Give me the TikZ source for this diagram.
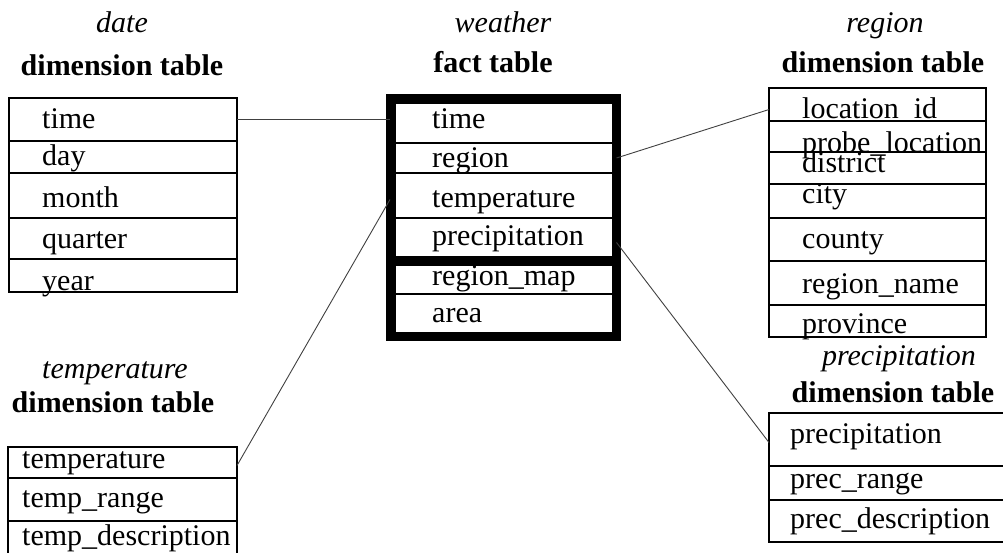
\documentclass[tikz,border=0pt]{standalone}
\usepackage{fontspec}
\setmainfont{Liberation Serif}
\begin{document}
\begin{tikzpicture}[
    x=1pt, y=-1pt,
    font=\fontsize{30}{36}\selectfont,
    field/.style={
      rectangle,
      draw=black,
      line width=1.2pt,
      inner sep=0pt,
      outer sep=0pt,
      anchor=north west
    },
    fieldtext/.style={anchor=base west, inner sep=0pt},
    title/.style={anchor=base, inner sep=0pt, font=\fontsize{30}{36}\selectfont\itshape},
    subtitle/.style={anchor=base, inner sep=0pt, font=\fontsize{30}{36}\selectfont\bfseries},
    link/.style={draw=black!75, line width=0.9pt},
]
\useasboundingbox (0,0) rectangle (1003,552);
\clip (0,0) rectangle (1003,552);

% date dimension table
\node[title] (date-t) at (122,32) {date};
\node[subtitle] (date-s) at (122,75) {dimension table};
\node[field, minimum width=228pt, minimum height=43pt] (dtime) at (9,98) {};
\node[fieldtext] (dtime-l) at ([shift={(33,30)}]dtime.north west) {time};
\node[field, minimum width=228pt, minimum height=32pt] (dday) at (9,141) {};
\node[fieldtext] (dday-l) at ([shift={(33,24)}]dday.north west) {day};
\node[field, minimum width=228pt, minimum height=45pt] (dmonth) at (9,173) {};
\node[fieldtext] (dmonth-l) at ([shift={(33,34)}]dmonth.north west) {month};
\node[field, minimum width=228pt, minimum height=41pt] (dquarter) at (9,218) {};
\node[fieldtext] (dquarter-l) at ([shift={(33,30)}]dquarter.north west) {quarter};
\node[field, minimum width=228pt, minimum height=33pt] (dyear) at (9,259) {};
\node[fieldtext] (dyear-l) at ([shift={(33,31)}]dyear.north west) {year};

% weather fact table
\node[title] (fact-t) at (503,32) {weather};
\node[subtitle] (fact-s) at (493,72) {fact table};
\node[field, minimum width=218pt, minimum height=40pt] (ftime) at (395,103) {};
\node[fieldtext] (ftime-l) at ([shift={(37,25)}]ftime.north west) {time};
\node[field, minimum width=218pt, minimum height=30pt] (fregion) at (395,143) {};
\node[fieldtext] (fregion-l) at ([shift={(37,24)}]fregion.north west) {region};
\node[field, minimum width=218pt, minimum height=45pt] (ftemp) at (395,173) {};
\node[fieldtext] (ftemp-l) at ([shift={(37,34)}]ftemp.north west) {temperature};
\node[field, minimum width=218pt, minimum height=39pt] (fprec) at (395,218) {};
\node[fieldtext] (fprec-l) at ([shift={(37,27)}]fprec.north west) {precipitation};
\node[field, minimum width=218pt, minimum height=29pt] (fmap) at (395,265) {};
\node[fieldtext] (fmap-l) at ([shift={(37,20)}]fmap.north west) {region\_map};
\node[field, minimum width=218pt, minimum height=39pt] (farea) at (395,294) {};
\node[fieldtext] (farea-l) at ([shift={(37,28)}]farea.north west) {area};
\node[field, line width=9pt, minimum width=226.5pt, minimum height=238.5pt] (fact) at (390,98) {};
\draw[line width=8pt] (390,261) -- (616.5,261);

% region dimension table
\node[title] (region-t) at (885,32) {region};
\node[subtitle] (region-s) at (883,72) {dimension table};
\node[field, minimum width=217pt, minimum height=33pt] (rloc) at (769,88) {};
\node[fieldtext] (rloc-l) at ([shift={(33,30)}]rloc.north west) {location\_id};
\node[field, minimum width=217pt, minimum height=31pt] (rprobe) at (769,121) {};
\node[fieldtext] (rprobe-l) at ([shift={(33,31)}]rprobe.north west) {probe\_location};
\node[field, minimum width=217pt, minimum height=32pt] (rdist) at (769,152) {};
\node[fieldtext] (rdist-l) at ([shift={(33,20)}]rdist.north west) {district};
\node[field, minimum width=217pt, minimum height=34pt] (rcity) at (769,184) {};
\node[fieldtext] (rcity-l) at ([shift={(33,19)}]rcity.north west) {city};
\node[field, minimum width=217pt, minimum height=43pt] (rcounty) at (769,218) {};
\node[fieldtext] (rcounty-l) at ([shift={(33,30)}]rcounty.north west) {county};
\node[field, minimum width=217pt, minimum height=44pt] (rname) at (769,261) {};
\node[fieldtext] (rname-l) at ([shift={(33,32)}]rname.north west) {region\_name};
\node[field, minimum width=217pt, minimum height=32pt] (rprov) at (769,305) {};
\node[fieldtext] (rprov-l) at ([shift={(33,28)}]rprov.north west) {province};

% temperature dimension table
\node[title] (temp-t) at (115,378) {temperature};
\node[subtitle] (temp-s) at (113,412) {dimension table};
\node[field, minimum width=229pt, minimum height=31pt] (ttemp) at (8,447) {};
\node[fieldtext] (ttemp-l) at ([shift={(14,21)}]ttemp.north west) {temperature};
\node[field, minimum width=229pt, minimum height=43pt] (trange) at (8,478) {};
\node[fieldtext] (trange-l) at ([shift={(14,29)}]trange.north west) {temp\_range};
\node[field, minimum width=229pt, minimum height=45pt] (tdesc) at (8,521) {};
\node[fieldtext] (tdesc-l) at ([shift={(14,24)}]tdesc.north west) {temp\_description};

% precipitation dimension table
\node[title] (prec-t) at (899,365) {precipitation};
\node[subtitle] (prec-s) at (893,402) {dimension table};
\node[field, minimum width=245pt, minimum height=53pt] (pprec) at (769,413) {};
\node[fieldtext] (pprec-l) at ([shift={(21,30)}]pprec.north west) {precipitation};
\node[field, minimum width=245pt, minimum height=34pt] (prange) at (769,466) {};
\node[fieldtext] (prange-l) at ([shift={(21,22)}]prange.north west) {prec\_range};
\node[field, minimum width=245pt, minimum height=42pt] (pdesc) at (769,500) {};
\node[fieldtext] (pdesc-l) at ([shift={(21,28)}]pdesc.north west) {prec\_description};

% links between fact and dimension tables
\draw[link] (dtime.east) -- (dtime.east -| fact.west);
\draw[link] (fregion.east -| fact.east) -- ([yshift=-5pt]rloc.west);
\draw[link] ([yshift=-4pt]ftemp.west -| fact.west) -- ([yshift=-3pt]ttemp.east);
\draw[link] ([yshift=-5pt]fprec.east -| fact.east) -- ([yshift=-3pt]pprec.west);

\end{tikzpicture}
\end{document}
